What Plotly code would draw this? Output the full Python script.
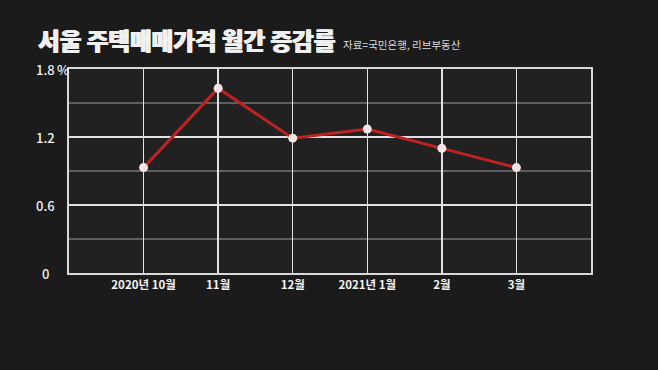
import plotly.graph_objects as go

categories = ["2020년 10월", "11월", "12월", "2021년 1월", "2월", "3월"]
values = [0.93, 1.63, 1.19, 1.27, 1.10, 0.93]
y_tick_vals = [0, 0.6, 1.2, 1.8]
y_tick_text = ["0", "0.6", "1.2", "1.8"]
minor_grid = [0.3, 0.9, 1.5]
title_text = "서울 주택매매가격 월간 증감률"
source_text = "자료=국민은행, 리브부동산"

xpos = list(range(len(categories)))
W, H = 658, 370
ml, mr, mt, mb = 69, 67, 69, 97
pw = W - ml - mr
ph = H - mt - mb
FONT = "Noto Sans CJK KR"

fig = go.Figure()
fig.add_trace(go.Scatter(
    x=xpos, y=values, mode="lines+markers",
    line=dict(color="#bf2222", width=3),
    marker=dict(color="#f6e4e4", size=9, line=dict(width=0)),
    hoverinfo="skip", showlegend=False,
))

shapes = []
for v in minor_grid:
    shapes.append(dict(type="line", xref="paper", x0=0, x1=1, yref="y", y0=v, y1=v,
                       line=dict(color="rgba(200,200,200,0.5)", width=1.5), layer="below"))

annotations = []
for v, t in zip(y_tick_vals, y_tick_text):
    annotations.append(dict(xref="paper", x=(45 - ml) / pw, y=v, yref="y", text=t, showarrow=False,
                            xanchor="center", yanchor="middle",
                            font=dict(family=FONT, size=13, color="#f2f2f2", weight=500)))
annotations.append(dict(xref="paper", x=(55 - ml) / pw, y=1.8, yref="y", text="%", showarrow=False,
                        xanchor="left", yanchor="middle",
                        font=dict(family=FONT, size=13, color="#f2f2f2", weight=500)))
annotations.append(dict(xref="paper", yref="paper", x=(36 - ml) / pw, y=1 + (mt - 40) / ph,
                        text=title_text, showarrow=False, xanchor="left", yanchor="middle",
                        font=dict(family=FONT, size=23.5, color="#f0f0f0", weight=900,
                                  shadow="0.8px 0 0 #f0f0f0, -0.4px 0 0 #f0f0f0")))
annotations.append(dict(xref="paper", yref="paper", x=(341 - ml) / pw, y=1 + (mt - 44) / ph,
                        text=source_text, showarrow=False, xanchor="left", yanchor="middle",
                        font=dict(family=FONT, size=10.5, color="#dddddd")))

fig.update_layout(
    width=W, height=H,
    margin=dict(l=ml, r=mr, t=mt, b=mb),
    paper_bgcolor="#1b1b1b", plot_bgcolor="#212121",
    shapes=shapes, annotations=annotations,
    xaxis=dict(range=[-1, len(categories)], tickvals=xpos, ticktext=categories,
               showgrid=True, gridcolor="#e2e2e2", gridwidth=1.5, zeroline=False,
               showline=True, linecolor="#d8d8d8", linewidth=2, mirror=True,
               ticks="", tickfont=dict(family=FONT, size=11.5, color="#f2f2f2", weight=600),
               fixedrange=True),
    yaxis=dict(range=[0, 1.8], tickvals=y_tick_vals, showticklabels=False,
               showgrid=True, gridcolor="#e2e2e2", gridwidth=1.5, zeroline=False,
               showline=True, linecolor="#d8d8d8", linewidth=2, mirror=True, ticks="",
               fixedrange=True),
)

fig.write_html("out.html", config={"displayModeBar": False, "staticPlot": True},
               post_script="document.body.style.margin='0';document.body.style.background='#1b1b1b';")
